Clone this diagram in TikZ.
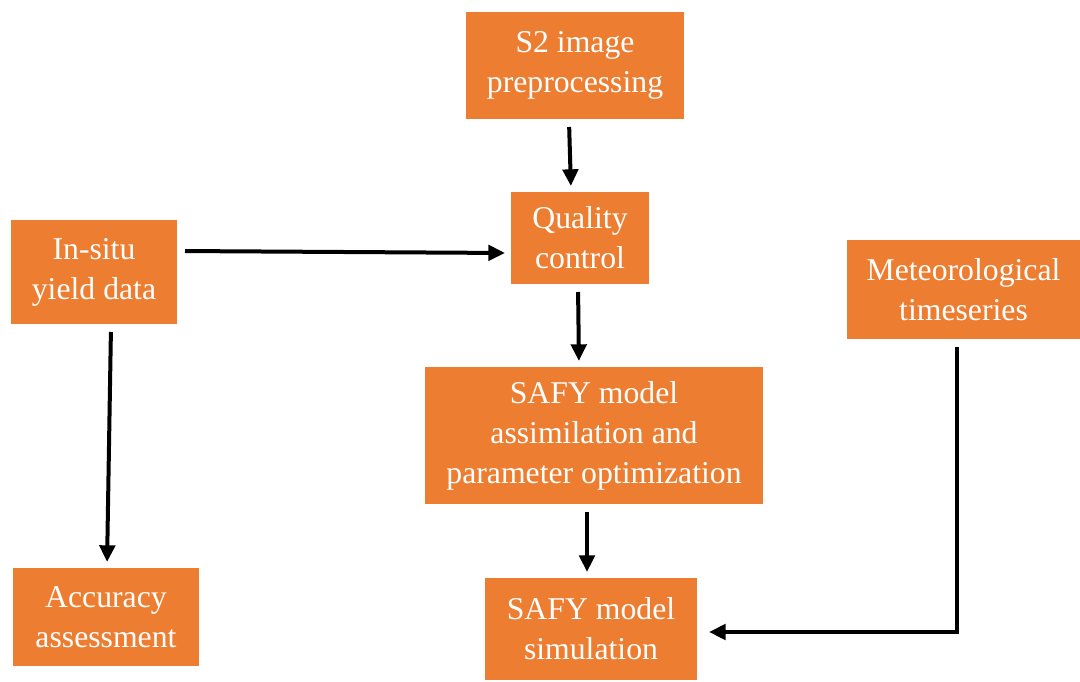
\documentclass[tikz,border=0pt]{standalone}
\usepackage{fontspec}
\setmainfont{Liberation Serif}
\usepackage{tikz}
\usetikzlibrary{arrows.meta,positioning}

\definecolor{boxorange}{HTML}{ED7D31}
\def\px{0.75pt}

\tikzset{
  block/.style 2 args={fill=boxorange,draw=none,text=white,align=center,
    inner sep=0pt,minimum width=#1*\px,minimum height=#2*\px,
    font=\fontsize{23.8}{30}\selectfont},
}

\begin{document}
\begin{tikzpicture}[x=\px,y=-\px,->,>={Triangle[length=12.5pt,width=11.5pt]},
    line width=3pt,shorten <=4.5pt,shorten >=3pt]
        \useasboundingbox (0,0) rectangle (1080,681);

        \node[block={218}{107}] (A) at (575,65.5)  {S2 image\\preprocessing};
        \node[block={138}{92}]  (B) at (580,238)   {Quality\\control};
        \node[block={166}{104}] (C) at (94,272)    {In-situ\\yield data};
        \node[block={233}{99}]  (D) at (963.5,289.5) {Meteorological\\timeseries};
        \node[block={338}{137}] (E) at (594,435.5) {SAFY model\\assimilation and\\parameter optimization};
        \node[block={186}{98}]  (F) at (106,617)   {Accuracy\\assessment};
        \node[block={212}{102}] (G) at (591,629)   {SAFY model\\simulation};

        \path
        ([xshift=-6*\px]A.south)  edge ([xshift=-9*\px]B.north)
        ([yshift=21*\px]C.east)   edge ([yshift=-15*\px]B.west)
        ([xshift=-2*\px]B.south)  edge ([xshift=-15*\px]E.north)
        ([xshift=17*\px]C.south)  edge ([xshift=1*\px]F.north)
        ([xshift=-7*\px]E.south)  edge ([xshift=-4*\px]G.north);

        \draw[shorten >=7.5pt] ([xshift=-6.5*\px]D.south) |- ([yshift=-3*\px]G.east);
    \end{tikzpicture}
\end{document}
